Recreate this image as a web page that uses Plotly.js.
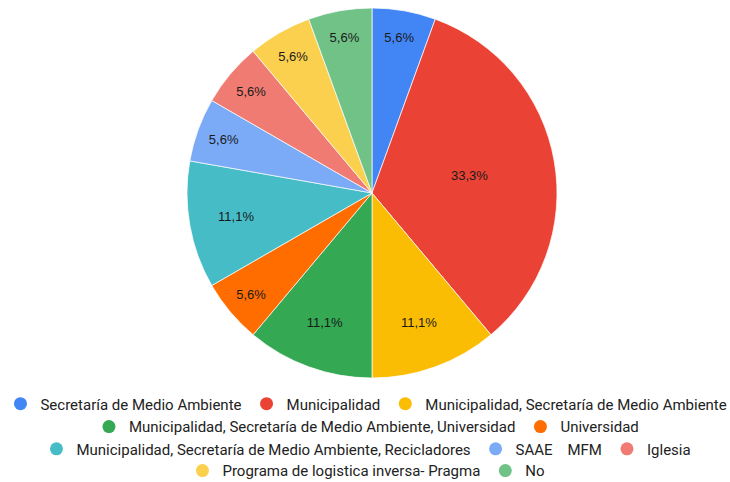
<!DOCTYPE html>
<html>
<head>
<meta charset="utf-8">
<script src="https://cdn.plot.ly/plotly-3.0.1.min.js"></script>
<style>html,body{margin:0;padding:0;background:#fff}#chart{width:730px;height:482px}</style>
</head>
<body>
<div id="chart"></div>
<script>
const labels = [
  "Secretaría de Medio Ambiente",
  "Municipalidad",
  "Municipalidad, Secretaría de Medio Ambiente",
  "Municipalidad, Secretaría de Medio Ambiente, Universidad",
  "Universidad",
  "Municipalidad, Secretaría de Medio Ambiente, Recicladores",
  "SAAE\u00a0\u00a0\u00a0\u00a0MFM",
  "Iglesia",
  "Programa de logistica inversa- Pragma",
  "No"
];
const values = [1, 6, 2, 2, 1, 2, 1, 1, 1, 1];
const colors = ["#4285F4", "#EA4335", "#FBBC04", "#34A853", "#FF6D01",
                "#46BDC6", "#7BAAF7", "#F07B72", "#FCD04F", "#71C287"];
// legend rows (indices into labels)
const legendRows = [[0, 1, 2], [3, 4], [5, 6, 7], [8, 9]];
const legendNames = ["legend", "legend2", "legend3", "legend4"];
const legendY = [-0.070, -0.132, -0.192, -0.251];

const traces = [{
  type: "pie",
  labels: labels,
  values: values,
  sort: false,
  direction: "clockwise",
  rotation: 0,
  domain: {x: [14 / 730, 1], y: [0, 1]},
  marker: {colors: colors, line: {color: "#ffffff", width: 0.7}},
  texttemplate: "%{percent:.1%}",
  textposition: "inside",
  insidetextorientation: "horizontal",
  textfont: {family: "Liberation Sans, Arial, sans-serif", size: 13, color: "#1a1a1a"},
  showlegend: false,
  hoverinfo: "label+percent"
}];

legendRows.forEach((row, r) => {
  row.forEach(i => {
    traces.push({
      type: "scatter",
      mode: "markers",
      x: [0], y: [0],
      name: labels[i],
      legend: legendNames[r],
      marker: {color: colors[i], size: 13, symbol: "circle"},
      hoverinfo: "skip",
      showlegend: true
    });
  });
});

const layout = {
  width: 730, height: 482,
  margin: {l: 0, r: 0, t: 8, b: 104, autoexpand: false},
  paper_bgcolor: "#ffffff",
  plot_bgcolor: "rgba(0,0,0,0)",
  separators: ",.",
  font: {family: "Roboto, Arial, sans-serif", size: 15, color: "#222222"},
  xaxis: {visible: false, range: [1, 2], fixedrange: true},
  yaxis: {visible: false, range: [1, 2], fixedrange: true}
};
legendNames.forEach((name, r) => {
  layout[name] = {
    orientation: "h",
    x: 0.502, xanchor: "center",
    y: legendY[r], yanchor: "middle",
    bgcolor: "rgba(0,0,0,0)",
    font: {family: "Roboto, Arial, sans-serif", size: 15, color: "#222222"},
    itemclick: false, itemdoubleclick: false
  };
});

Plotly.newPlot("chart", traces, layout, {displayModeBar: false, staticPlot: true});
</script>
</body>
</html>
